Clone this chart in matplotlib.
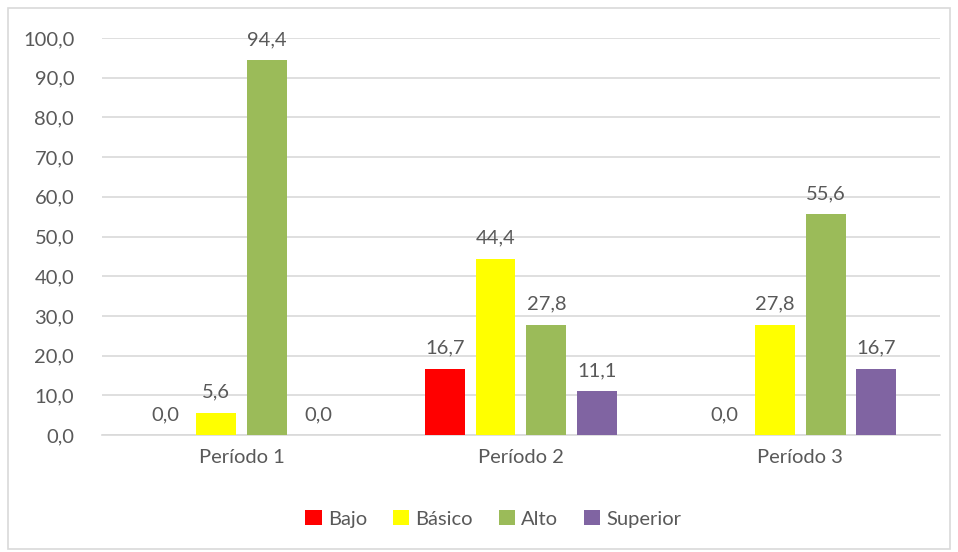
import matplotlib.pyplot as plt
import numpy as np
from matplotlib.patches import Rectangle

periodos = ['Período 1', 'Período 2', 'Período 3']
series = ['Bajo', 'Básico', 'Alto', 'Superior']
bajo = [0.0, 16.7, 0.0]
basico = [5.6, 44.4, 27.8]
alto = [94.4, 27.8, 55.6]
superior = [0.0, 11.1, 16.7]
colores = ['#FF0000', '#FFFF00', '#9BBB59', '#8064A2']

plt.rcParams['font.family'] = ['Lato', 'DejaVu Sans']
texto = '#595959'
fs = 14.5

fig = plt.figure(figsize=(9.58, 5.52), dpi=100)
ax = fig.add_axes([0.1065, 0.212, 0.8745, 0.719])

x = np.arange(len(periodos))
w = 0.143
paso = 0.182
for i, (nombre, vals) in enumerate(zip(series, [bajo, basico, alto, superior])):
    pos = x + (i - 1.5) * paso
    ax.bar(pos, vals, w, color=colores[i], label=nombre, zorder=3)
    for p, v in zip(pos, vals):
        ax.text(p, v + 3.0, f'{v:.1f}'.replace('.', ','), ha='center', va='bottom',
                fontsize=fs, color=texto)

ax.set_xlim(-0.5, 2.5)
ax.set_ylim(0, 100)
ax.set_yticks(np.arange(0, 101, 10))
ax.set_yticklabels([f'{t:.1f}'.replace('.', ',') for t in np.arange(0, 101, 10)])
ax.set_xticks(x)
ax.set_xticklabels(periodos)
ax.tick_params(axis='both', length=0, labelsize=fs, colors=texto)
ax.tick_params(axis='y', pad=20)
ax.tick_params(axis='x', pad=10)
ax.grid(axis='y', color='#D9D9D9', linewidth=1.2, zorder=0)
for s in ['top', 'right', 'left']:
    ax.spines[s].set_visible(False)
ax.spines['bottom'].set_color('#D9D9D9')
ax.spines['bottom'].set_linewidth(1.2)

fig.legend(loc='center', bbox_to_anchor=(0.515, 0.06), ncol=4, frameon=False,
           fontsize=fs, labelcolor=texto, handlelength=0.8, handleheight=0.8,
           handletextpad=0.3, columnspacing=1.3)

fig.patches.append(Rectangle((0.008, 0.006), 0.984, 0.98, transform=fig.transFigure,
                             fill=False, edgecolor='#D9D9D9', linewidth=1.2))

fig.savefig('out.png', dpi=100)
